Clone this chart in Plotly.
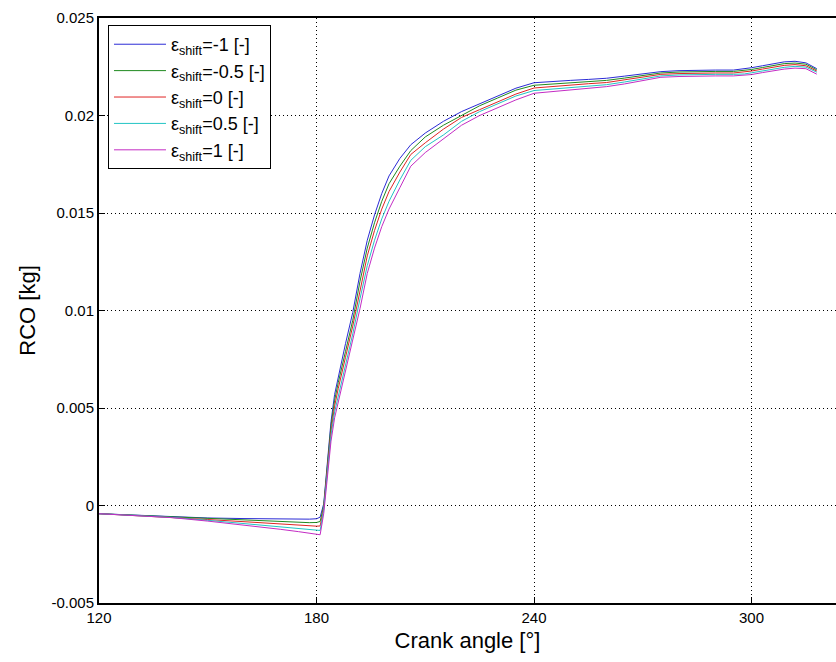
import plotly.graph_objects as go

crank_angle = [120, 130, 140, 150, 160, 170, 175, 178, 180, 181, 182, 183, 184, 185, 186, 188,
               190, 192, 194, 196, 198, 200, 203, 206, 210, 215, 220, 225, 230, 235, 240, 245,
               250, 255, 260, 265, 270, 275, 280, 285, 290, 295, 298, 300, 303, 306, 309, 312,
               315, 318]

rco_m1 = [-0.00042, -0.00050, -0.00058, -0.00064, -0.00067, -0.00070, -0.00071, -0.00070, -0.00068,
          -0.00060, 0.0001, 0.0022, 0.0043, 0.0057, 0.0066, 0.0083, 0.0099, 0.0119, 0.0136, 0.0149,
          0.0160, 0.0169, 0.0178, 0.0185, 0.0191, 0.0197, 0.0202, 0.0206, 0.0210, 0.0214, 0.02168,
          0.02175, 0.02180, 0.02185, 0.02191, 0.02202, 0.02214, 0.02225, 0.02230, 0.02233, 0.02233,
          0.02233, 0.02238, 0.02245, 0.02255, 0.02265, 0.02275, 0.02278, 0.02270, 0.02240]

rco_m05 = [-0.00042, -0.00050, -0.00059, -0.00068, -0.00075, -0.00083, -0.00087, -0.00088, -0.00087,
           -0.00082, 0.0000, 0.0020, 0.0041, 0.0054, 0.0063, 0.0079, 0.0095, 0.0115, 0.0132, 0.0145,
           0.0156, 0.0165, 0.0174, 0.0182, 0.0189, 0.0195, 0.0200, 0.0205, 0.0209, 0.0213, 0.02155,
           0.02162, 0.02168, 0.02174, 0.02180, 0.02192, 0.02206, 0.02218, 0.02223, 0.02226, 0.02226,
           0.02226, 0.02230, 0.02236, 0.02246, 0.02256, 0.02266, 0.02269, 0.02263, 0.02234]

rco_0 = [-0.00042, -0.00051, -0.00060, -0.00072, -0.00083, -0.00096, -0.00102, -0.00106, -0.00106,
         -0.00105, -0.0001, 0.0019, 0.0038, 0.0051, 0.0060, 0.0076, 0.0092, 0.0110, 0.0128, 0.0141,
         0.0152, 0.0161, 0.0171, 0.0180, 0.0186, 0.0193, 0.0199, 0.0203, 0.0207, 0.0211, 0.02141,
         0.02149, 0.02155, 0.02163, 0.02169, 0.02182, 0.02197, 0.02211, 0.02215, 0.02218, 0.02218,
         0.02218, 0.02222, 0.02228, 0.02238, 0.02248, 0.02257, 0.02261, 0.02255, 0.02228]

rco_p05 = [-0.00042, -0.00051, -0.00061, -0.00076, -0.00092, -0.00109, -0.00118, -0.00124, -0.00126,
           -0.00128, -0.0002, 0.0017, 0.0036, 0.0048, 0.0056, 0.0072, 0.0088, 0.0106, 0.0123, 0.0136,
           0.0147, 0.0156, 0.0167, 0.0177, 0.0184, 0.0190, 0.0197, 0.0202, 0.0206, 0.0210, 0.02128,
           0.02135, 0.02143, 0.02151, 0.02158, 0.02172, 0.02189, 0.02203, 0.02208, 0.02211, 0.02211,
           0.02211, 0.02213, 0.02219, 0.02229, 0.02239, 0.02247, 0.02252, 0.02248, 0.02222]

rco_p1 = [-0.00042, -0.00052, -0.00062, -0.00080, -0.00100, -0.00122, -0.00134, -0.00142, -0.00145,
          -0.00150, -0.0004, 0.0015, 0.0033, 0.0045, 0.0053, 0.0068, 0.0084, 0.0101, 0.0119, 0.0132,
          0.0143, 0.0152, 0.0163, 0.0174, 0.0181, 0.0188, 0.0195, 0.0200, 0.0204, 0.0208, 0.02114,
          0.02122, 0.02130, 0.02140, 0.02148, 0.02162, 0.02180, 0.02196, 0.02200, 0.02203, 0.02203,
          0.02203, 0.02205, 0.02210, 0.02220, 0.02230, 0.02238, 0.02243, 0.02240, 0.02212]

series_names = ["ε<sub>shift</sub>=-1 [-]", "ε<sub>shift</sub>=-0.5 [-]", "ε<sub>shift</sub>=0 [-]",
                "ε<sub>shift</sub>=0.5 [-]", "ε<sub>shift</sub>=1 [-]"]
series_values = [rco_m1, rco_m05, rco_0, rco_p05, rco_p1]
series_colors = ["#2b2bd6", "#1f8a1f", "#e02424", "#22c4c4", "#c42cc4"]

x_ticks = [120, 180, 240, 300]
y_ticks = [-0.005, 0, 0.005, 0.01, 0.015, 0.02, 0.025]
y_tick_text = ["-0.005", "0", "0.005", "0.01", "0.015", "0.02", "0.025"]

fig = go.Figure()
for name, vals, col in zip(series_names, series_values, series_colors):
    fig.add_trace(go.Scatter(x=crank_angle, y=vals, mode="lines", name=name,
                             line=dict(color=col, width=1)))

font_family = "Liberation Sans, Arial, sans-serif"
fig.update_layout(
    width=836, height=662,
    margin=dict(l=99, r=0, t=18, b=59),
    paper_bgcolor="white", plot_bgcolor="white",
    font=dict(family=font_family, color="black", size=15),
    showlegend=True,
    legend=dict(x=0.0122, y=0.988, xanchor="left", yanchor="top",
                bgcolor="white", bordercolor="black", borderwidth=1,
                font=dict(size=18, family=font_family), itemwidth=52,
                tracegroupgap=0),
    xaxis=dict(range=[120, 323.3], tickvals=x_ticks, ticks="inside", ticklen=6,
               tickcolor="black", showline=True, linecolor="black", linewidth=2,
               mirror=True, showgrid=True, gridcolor="black", griddash="1px,3px",
               gridwidth=1, zeroline=False,
               title=dict(text="Crank angle [°]", font=dict(size=22), standoff=8),
               tickfont=dict(size=15)),
    yaxis=dict(range=[-0.005, 0.025], tickvals=y_ticks, ticktext=y_tick_text,
               ticks="inside", ticklen=6, tickcolor="black", showline=True,
               linecolor="black", linewidth=2, mirror=False, showgrid=True,
               gridcolor="black", griddash="1px,3px", gridwidth=1, zeroline=False,
               title=dict(text="RCO [kg]", font=dict(size=22), standoff=10),
               tickfont=dict(size=15)),
)

fig.write_html("out.html")
